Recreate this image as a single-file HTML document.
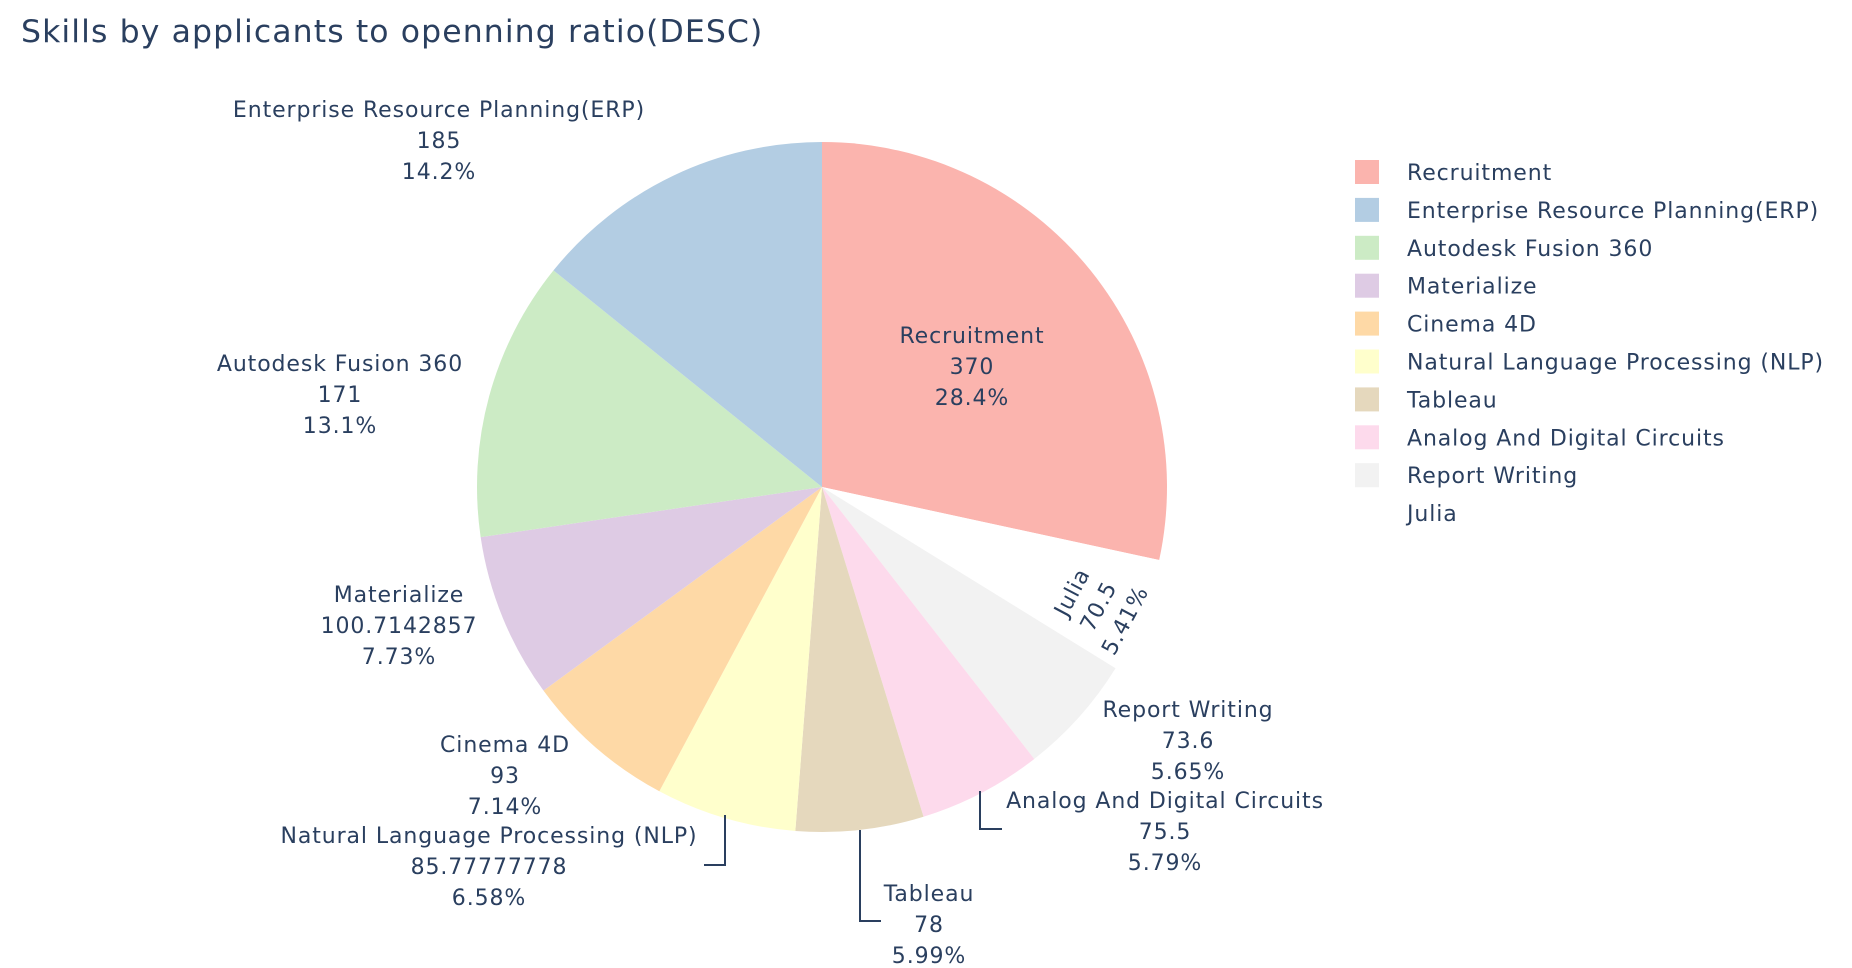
<!DOCTYPE html>
<html><head><meta charset="utf-8">
<style>
html,body{margin:0;padding:0;background:#fff;}
svg{display:block;font-family:"DejaVu Sans","Liberation Sans",sans-serif;}
text{fill:#2a3f5f;}
#labels text,#legend text{letter-spacing:0.9px;}
</style></head>
<body>
<svg id="chart" width="1852" height="968" viewBox="0 0 1852 968">
<text x="21" y="42" font-size="31.5" style="letter-spacing:1.1px">Skills by applicants to openning ratio(DESC)</text>
<g id="slices"></g>
<g id="labels"></g>
<g id="legend"></g>
</svg>
<script>
const categories = ["Recruitment","Julia","Report Writing","Analog And Digital Circuits","Tableau","Natural Language Processing (NLP)","Cinema 4D","Materialize","Autodesk Fusion 360","Enterprise Resource Planning(ERP)"];
const values = [370,70.5,73.6,75.5,78,85.77777778,93,100.7142857,171,185];
const valueLabels = ["370","70.5","73.6","75.5","78","85.77777778","93","100.7142857","171","185"];
const colors = ["#FBB4AE","#FFFFFF","#F2F2F2","#FDDAEC","#E5D8BD","#FFFFCC","#FED9A6","#DECBE4","#CCEBC5","#B3CDE3"];
const legendOrder = ["Recruitment","Enterprise Resource Planning(ERP)","Autodesk Fusion 360","Materialize","Cinema 4D","Natural Language Processing (NLP)","Tableau","Analog And Digital Circuits","Report Writing","Julia"];

const NS="http://www.w3.org/2000/svg";
const cx=822, cy=487, R=345;
const total=values.reduce((a,b)=>a+b,0);
const sl=document.getElementById('slices');
const lb=document.getElementById('labels');
const lg=document.getElementById('legend');
function pt(a,r){return [cx+r*Math.sin(a), cy-r*Math.cos(a)];}
let acc=0;
values.forEach((v,i)=>{
  const a0=acc/total*2*Math.PI; acc+=v; const a1=acc/total*2*Math.PI;
  const p0=pt(a0,R), p1=pt(a1,R);
  const large=(a1-a0)>Math.PI?1:0;
  const p=document.createElementNS(NS,'path');
  p.setAttribute('d',`M${cx},${cy}L${p0[0]},${p0[1]}A${R},${R} 0 ${large} 1 ${p1[0]},${p1[1]}Z`);
  p.setAttribute('fill',colors[i]);
  
  
  sl.appendChild(p);
});
const labelPos={
 "Recruitment":[972,335],"Enterprise Resource Planning(ERP)":[439,109],"Autodesk Fusion 360":[340,363],
 "Materialize":[399,594],"Cinema 4D":[505,744],"Natural Language Processing (NLP)":[489,835],
 "Tableau":[929,893],"Analog And Digital Circuits":[1165,800],"Report Writing":[1188,709]
};
categories.forEach((c,i)=>{
  const pct=(values[i]/total*100);
  const pctS=(pct>=10?pct.toFixed(1):pct.toFixed(2))+'%';
  const lines=[c,valueLabels[i],pctS];
  const g=document.createElementNS(NS,'text');
  g.setAttribute('font-size','22');
  g.setAttribute('text-anchor','middle');
  
  
  if(c==="Julia"){
    g.setAttribute('transform','translate(1098,606) rotate(-62)');
    lines.forEach((t,k)=>{const s=document.createElementNS(NS,'tspan');s.setAttribute('x',0);s.setAttribute('y',(k-1)*30+8);s.textContent=t;g.appendChild(s);});
  } else {
    const [x,y]=labelPos[c];
    lines.forEach((t,k)=>{const s=document.createElementNS(NS,'tspan');s.setAttribute('x',x);s.setAttribute('y',y+k*31+8);s.textContent=t;g.appendChild(s);});
  }
  lb.appendChild(g);
});
[["725,815 725,865 704,865","leader-nlp"],["860,830 860,921 881,921","leader-tableau"],["980,791 980,829 1002,829","leader-analog"]].forEach(l=>{
  const p=document.createElementNS(NS,'polyline');
  p.setAttribute('points',l[0]);p.setAttribute('fill','none');p.setAttribute('stroke','#2a3f5f');p.setAttribute('stroke-width','2');
  
  
  lb.appendChild(p);
});
legendOrder.forEach((c,k)=>{
  const i=categories.indexOf(c);
  const y=172+k*37.9;
  const r=document.createElementNS(NS,'rect');
  r.setAttribute('x',1355);r.setAttribute('y',y-12);r.setAttribute('width',24);r.setAttribute('height',24);r.setAttribute('fill',colors[i]);
  
  
  lg.appendChild(r);
  const t=document.createElementNS(NS,'text');
  t.setAttribute('x',1407);t.setAttribute('y',y+8);t.setAttribute('font-size','22');t.textContent=c;
  
  
  lg.appendChild(t);
});
</script>
</body></html>
